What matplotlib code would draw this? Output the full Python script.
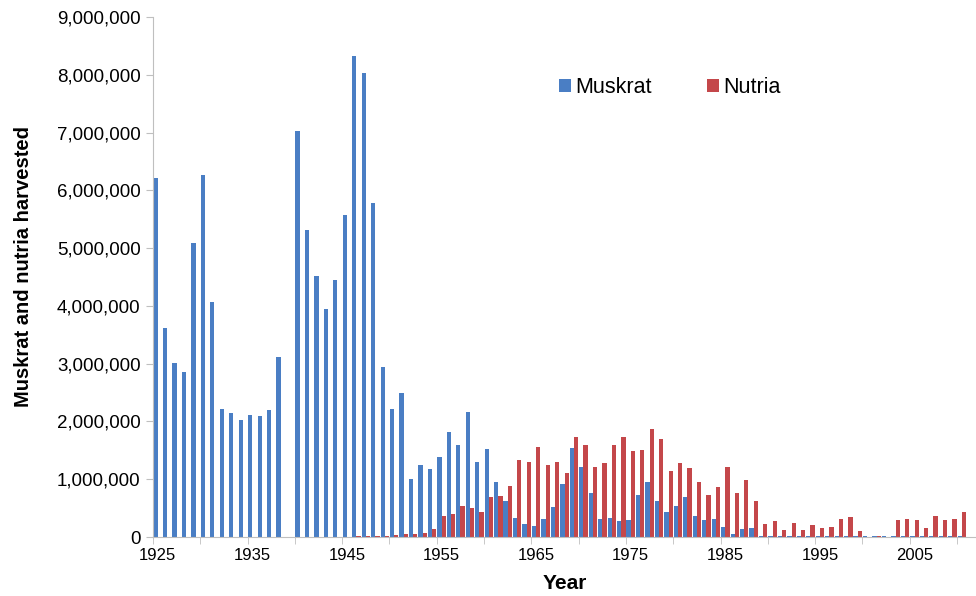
import numpy as np
import matplotlib
matplotlib.use('Agg')
import matplotlib.pyplot as plt
from matplotlib.ticker import FuncFormatter, MultipleLocator, FixedLocator

plt.rcParams['font.family'] = ['Liberation Sans', 'DejaVu Sans']

years = list(range(1925, 2011))

# harvest in millions
muskrat = [6.22, 3.61, 3.02, 2.86, 5.09, 6.27, 4.06, 2.21, 2.14, 2.03,
           2.12, 2.10, 2.19, 3.11, 0.00, 7.02, 5.31, 4.51, 3.94, 4.44,
           5.57, 8.33, 8.03, 5.78, 2.95, 2.21, 2.49, 1.00, 1.25, 1.17,
           1.38, 1.82, 1.60, 2.16, 1.30, 1.52, 0.96, 0.63, 0.33, 0.23,
           0.19, 0.32, 0.52, 0.92, 1.54, 1.21, 0.77, 0.32, 0.33, 0.27,
           0.29, 0.72, 0.95, 0.62, 0.43, 0.54, 0.69, 0.37, 0.30, 0.32,
           0.18, 0.06, 0.14, 0.15, 0.02, 0.02, 0.015, 0.015, 0.01, 0.01,
           0.01, 0.01, 0.01, 0.01, 0.01, 0.01, 0.01, 0.01, 0.01, 0.01,
           0.01, 0.01, 0.01, 0.01, 0.01, 0.01]

nutria = [0, 0, 0, 0, 0, 0, 0, 0, 0, 0,
          0, 0, 0, 0, 0, 0, 0, 0, 0.003, 0.005,
          0.008, 0.01, 0.015, 0.02, 0.02, 0.03, 0.06, 0.06, 0.07, 0.14,
          0.36, 0.40, 0.53, 0.50, 0.44, 0.69, 0.71, 0.89, 1.34, 1.29,
          1.56, 1.25, 1.29, 1.11, 1.73, 1.60, 1.22, 1.28, 1.60, 1.73,
          1.48, 1.51, 1.87, 1.69, 1.14, 1.28, 1.19, 0.96, 0.73, 0.87,
          1.21, 0.76, 0.98, 0.62, 0.22, 0.28, 0.12, 0.24, 0.12, 0.20,
          0.16, 0.18, 0.32, 0.35, 0.10, 0.0, 0.02, 0.005, 0.30, 0.31,
          0.29, 0.16, 0.36, 0.30, 0.32, 0.43]

year_labels = list(range(1925, 2010, 10))

blue = '#4A7EC4'
red = '#C4474A'
grey = '#BFBFBF'

x = np.array(years)
m = np.array(muskrat) * 1e6
n = np.array(nutria) * 1e6

fig = plt.figure(figsize=(9.76, 5.96), dpi=100)
ax = fig.add_axes([153 / 976, 1 - 537 / 596, 1 - 153 / 976, 520 / 596])

w = 0.45
ax.bar(x, m, width=-w, align='edge', color=blue, label='Muskrat')
ax.bar(x, n, width=w, align='edge', color=red, label='Nutria')

ax.set_xlim(1924.5, 2011.5)
ax.set_ylim(0, 9e6)
ax.yaxis.set_major_locator(MultipleLocator(1e6))
ax.yaxis.set_major_formatter(FuncFormatter(lambda v, p: f'{int(v):,}'))

ax.xaxis.set_major_locator(FixedLocator(year_labels))
ax.xaxis.set_minor_locator(FixedLocator(np.arange(1924.5, 2011.5, 5)))
ax.tick_params(axis='x', which='major', length=0, labelsize=12, pad=8)
ax.tick_params(axis='x', which='minor', length=5, color=grey, direction='out')
ax.tick_params(axis='y', length=5, color=grey, labelsize=13.5, pad=4)

for s in ['top', 'right']:
    ax.spines[s].set_visible(False)
ax.spines['left'].set_color(grey)
ax.spines['bottom'].set_color(grey)

ax.set_xlabel('Year', fontsize=15, fontweight='bold', labelpad=8)
ax.set_ylabel('Muskrat and nutria harvested', fontsize=14.5, fontweight='bold')
ax.yaxis.set_label_coords(-0.1455, 0.52)

ax.legend(loc='center', bbox_to_anchor=(0.628, 0.8635), ncol=2, frameon=False,
          fontsize=15.5, handlelength=0.55, handleheight=0.55, handletextpad=0.2,
          columnspacing=2.6)

fig.savefig('out.png', dpi=100)
